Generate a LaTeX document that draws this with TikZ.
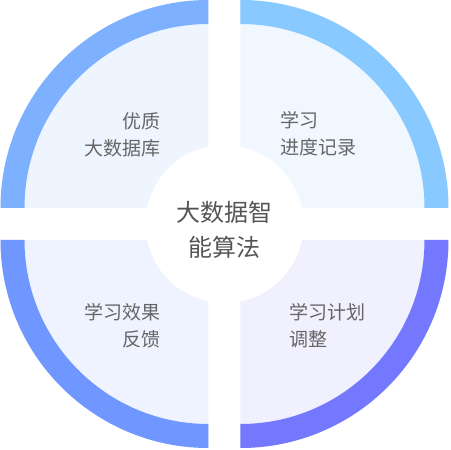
\documentclass[tikz,border=0pt]{standalone}
\usepackage{fontspec}
\setmainfont{Noto Sans CJK SC}
\usetikzlibrary{positioning}
\definecolor{ringTL}{HTML}{7DB0FF}
\definecolor{ringTR}{HTML}{88C9FF}
\definecolor{ringBL}{HTML}{7096FF}
\definecolor{ringBR}{HTML}{7378FF}
\definecolor{fillTL}{HTML}{EEF5FF}
\definecolor{fillTR}{HTML}{F1F7FF}
\definecolor{fillBL}{HTML}{EFF2FF}
\definecolor{fillBR}{HTML}{F1F0FF}
\definecolor{txtGray}{HTML}{666666}
\definecolor{txtDark}{HTML}{555555}

\begin{document}
\begin{tikzpicture}[
    x=1pt, y=1pt,
    quadtext/.style={inner sep=0pt, font=\fontsize{19}{27}\selectfont, text=txtGray},
    hub/.style={circle, fill=white, minimum size=158pt, inner sep=0pt},
    hubtext/.style={inner sep=0pt, align=center, font=\fontsize{24}{35}\selectfont, text=txtDark},
  ]
    \useasboundingbox (-224.5,-226) rectangle (226.5,224);

    % quarter fields
    \fill[fillTL] (-16,16) -- ++(-208,0) arc[start angle=180, end angle=90, radius=208pt] -- cycle;
    \fill[fillTR] (16,16) -- ++(0,208) arc[start angle=90, end angle=0, radius=208pt] -- cycle;
    \fill[fillBL] (-16,-16) -- ++(0,-208) arc[start angle=270, end angle=180, radius=208pt] -- cycle;
    \fill[fillBR] (16,-16) -- ++(208,0) arc[start angle=0, end angle=-90, radius=208pt] -- cycle;

    % outer rings
    \fill[ringTL] (-224,16) arc[start angle=180, end angle=90, radius=208pt] -- ++(0,-24)
      arc[start angle=90, end angle=180, radius=184pt] -- cycle;
    \fill[ringTR] (16,224) arc[start angle=90, end angle=0, radius=208pt] -- ++(-24,0)
      arc[start angle=0, end angle=90, radius=184pt] -- cycle;
    \fill[ringBL] (-16,-224) arc[start angle=270, end angle=180, radius=208pt] -- ++(24,0)
      arc[start angle=180, end angle=270, radius=184pt] -- cycle;
    \fill[ringBR] (224,-16) arc[start angle=0, end angle=-90, radius=208pt] -- ++(0,24)
      arc[start angle=-90, end angle=0, radius=184pt] -- cycle;

    % centre
    \node[hub] (core) at (0,0) {};
    \node[hubtext] (coretext) at ([yshift=-6pt]core.center) {大数据智\\能算法};

    % labels
    \node[quadtext, anchor=east, align=right] (dataBase) at (-63.5,89.5) {优质\\大数据库};
    \node[quadtext, anchor=west, align=left] (progress) at (55.5,90) {学习\\进度记录};
    \node[quadtext, anchor=east, align=right] (feedback) at (-63.5,-102) {学习效果\\反馈};
    \node[quadtext, anchor=west, align=left] (planAdjust) at (64.5,-102) {学习计划\\调整};
  \end{tikzpicture}
\end{document}
